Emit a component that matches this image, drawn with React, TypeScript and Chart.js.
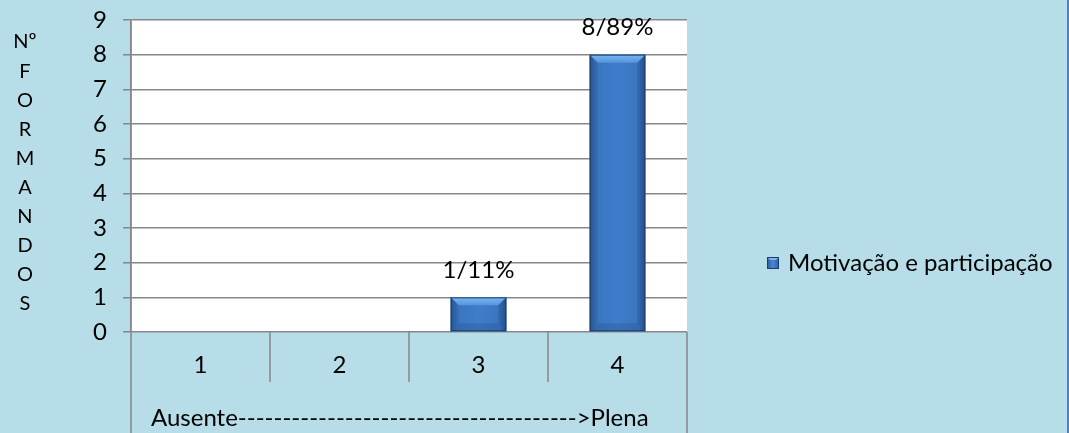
import React, { useEffect, useRef } from "react";
import { Chart, registerables } from "chart.js";

Chart.register(...registerables);

const categories = ["1", "2", "3", "4"];
const seriesName = "Motivação e participação";
const counts = [0, 0, 1, 8];
const valueLabels = ["", "", "1/11%", "8/89%"];
const yTitleLetters = ["Nº", "F", "O", "R", "M", "A", "N", "D", "O", "S"];
const scaleNote = "Ausente-------------------------------------->Plena";

const FONT = "Lato, 'Liberation Sans', sans-serif";
const BG = "#B7DEE8";
const GRID = "#878787";

const decorPlugin = {
  id: "decor",
  beforeDraw(chart: any) {
    const { ctx, width, height, chartArea } = chart;
    ctx.save();
    ctx.fillStyle = BG;
    ctx.fillRect(0, 0, width, height);
    ctx.fillStyle = "#ffffff";
    ctx.fillRect(chartArea.left, chartArea.top, chartArea.right - chartArea.left, chartArea.bottom - chartArea.top);
    ctx.restore();
  },
  afterDatasetsDraw(chart: any) {
    const { ctx } = chart;
    const meta = chart.getDatasetMeta(0);
    ctx.save();
    meta.data.forEach((bar: any, i: number) => {
      if (!counts[i]) return;
      const w = bar.width;
      const l = bar.x - w / 2;
      const r = bar.x + w / 2;
      const t = bar.y;
      const b = bar.base;
      // body with soft horizontal shading
      const g = ctx.createLinearGradient(l, 0, r, 0);
      g.addColorStop(0, "#2c5c9c");
      g.addColorStop(0.12, "#3a75bf");
      g.addColorStop(0.5, "#3f7dca");
      g.addColorStop(0.88, "#3a75bf");
      g.addColorStop(1, "#2a5896");
      ctx.fillStyle = g;
      ctx.fillRect(l, t, w, b - t);
      const bev = Math.min(8, (b - t) / 3);
      // top bevel
      ctx.beginPath();
      ctx.moveTo(l, t);
      ctx.lineTo(r, t);
      ctx.lineTo(r - bev, t + bev);
      ctx.lineTo(l + bev, t + bev);
      ctx.closePath();
      const gt = ctx.createLinearGradient(0, t, 0, t + bev);
      gt.addColorStop(0, "#7ab6ee");
      gt.addColorStop(1, "#5594dc");
      ctx.fillStyle = gt;
      ctx.fill();
      // side bevels
      ctx.beginPath();
      ctx.moveTo(l, t);
      ctx.lineTo(l + bev, t + bev);
      ctx.lineTo(l + bev, b - bev);
      ctx.lineTo(l, b);
      ctx.closePath();
      ctx.fillStyle = "rgba(20,50,100,0.15)";
      ctx.fill();
      ctx.beginPath();
      ctx.moveTo(r, t);
      ctx.lineTo(r - bev, t + bev);
      ctx.lineTo(r - bev, b - bev);
      ctx.lineTo(r, b);
      ctx.closePath();
      ctx.fillStyle = "rgba(20,50,100,0.22)";
      ctx.fill();
      // bottom bevel
      ctx.beginPath();
      ctx.moveTo(l, b);
      ctx.lineTo(r, b);
      ctx.lineTo(r - bev, b - bev);
      ctx.lineTo(l + bev, b - bev);
      ctx.closePath();
      ctx.fillStyle = "rgba(20,50,100,0.18)";
      ctx.fill();
      ctx.strokeStyle = "#1d3d6b";
      ctx.lineWidth = 1;
      ctx.strokeRect(l + 0.5, t + 0.5, w - 1, b - t - 1);

      // value label above the bar
      ctx.fillStyle = "#000";
      ctx.font = `24px ${FONT}`;
      ctx.textAlign = "center";
      ctx.textBaseline = "middle";
      ctx.fillText(valueLabels[i], bar.x, t - 27);
    });
    ctx.restore();
  },
  afterDraw(chart: any) {
    const { ctx, chartArea, height, width } = chart;
    const xs = chart.scales.x;
    ctx.save();
    ctx.strokeStyle = GRID;
    ctx.lineWidth = 1.5;
    // axis frame below the plot
    ctx.beginPath();
    ctx.moveTo(chartArea.left, chartArea.top);
    ctx.lineTo(chartArea.left, height);
    ctx.moveTo(chartArea.right, chartArea.bottom);
    ctx.lineTo(chartArea.right, height);
    // category dividers
    for (let i = 1; i < categories.length; i++) {
      const x = (xs.getPixelForValue(i - 1) + xs.getPixelForValue(i)) / 2;
      ctx.moveTo(x, chartArea.bottom);
      ctx.lineTo(x, chartArea.bottom + 50);
    }
    ctx.stroke();

    // second row label under the categories
    ctx.fillStyle = "#000";
    ctx.font = `24px ${FONT}`;
    ctx.textAlign = "left";
    ctx.textBaseline = "middle";
    ctx.fillText(scaleNote, chartArea.left + 20, chartArea.bottom + 86);

    // stacked vertical axis title
    ctx.font = `20px ${FONT}`;
    ctx.textAlign = "center";
    yTitleLetters.forEach((ch, i) => {
      ctx.fillText(ch, 25, 42 + i * 29.1);
    });

    // legend
    const lx = 767;
    const ly = 263;
    const lg = ctx.createLinearGradient(lx, 0, lx + 12, 0);
    lg.addColorStop(0, "#2c5c9c");
    lg.addColorStop(0.5, "#4a88d4");
    lg.addColorStop(1, "#2c5c9c");
    ctx.fillStyle = lg;
    ctx.fillRect(lx, ly - 6, 12, 12);
    ctx.fillStyle = "#7ab6ee";
    ctx.beginPath();
    ctx.moveTo(lx, ly - 6);
    ctx.lineTo(lx + 12, ly - 6);
    ctx.lineTo(lx + 9, ly - 3);
    ctx.lineTo(lx + 3, ly - 3);
    ctx.closePath();
    ctx.fill();
    ctx.strokeStyle = "#1d3d6b";
    ctx.lineWidth = 1;
    ctx.strokeRect(lx + 0.5, ly - 5.5, 11, 11);
    ctx.fillStyle = "#000";
    ctx.font = `24px ${FONT}`;
    ctx.textAlign = "left";
    ctx.fillText(seriesName, 788, ly);

    // right border
    ctx.fillStyle = "#4f81bd";
    ctx.fillRect(width - 2, 0, 2, height);
    ctx.restore();
  },
};

export default function App() {
  const canvasRef = useRef<HTMLCanvasElement>(null);

  useEffect(() => {
    document.body.style.margin = "0";
    const canvas = canvasRef.current;
    if (!canvas) return;
    const chart = new Chart(canvas, {
      type: "bar",
      data: {
        labels: categories,
        datasets: [
          {
            label: seriesName,
            data: counts,
            backgroundColor: "#3f7dca",
            borderWidth: 0,
            barPercentage: 0.4,
            categoryPercentage: 1,
          },
        ],
      },
      options: {
        animation: false,
        responsive: false,
        maintainAspectRatio: false,
        layout: { padding: { top: 20, right: 382, left: 0, bottom: 0 } },
        plugins: {
          legend: { display: false },
          tooltip: { enabled: false },
        },
        scales: {
          x: {
            grid: { display: false, drawTicks: false },
            border: { display: false },
            ticks: { color: "#000", font: { size: 24, family: FONT }, padding: 19 },
            afterFit(scale: any) {
              scale.height = 101;
              scale.paddingLeft = 0;
              scale.paddingRight = 0;
            },
          },
          y: {
            min: 0,
            max: 9,
            ticks: { stepSize: 1, color: "#000", font: { size: 24, family: FONT }, padding: 16 },
            grid: { color: GRID, lineWidth: 1.5, tickLength: 8 },
            border: { display: true, color: GRID, width: 1.5 },
            afterFit(scale: any) {
              scale.width = 131;
              scale.paddingTop = 0;
              scale.paddingBottom = 0;
            },
          },
        },
      },
      plugins: [decorPlugin],
    });
    return () => chart.destroy();
  }, []);

  return (
    <div style={{ width: 1069, height: 433 }}>
      <canvas ref={canvasRef} width={1069} height={433} style={{ display: "block" }} />
    </div>
  );
}
